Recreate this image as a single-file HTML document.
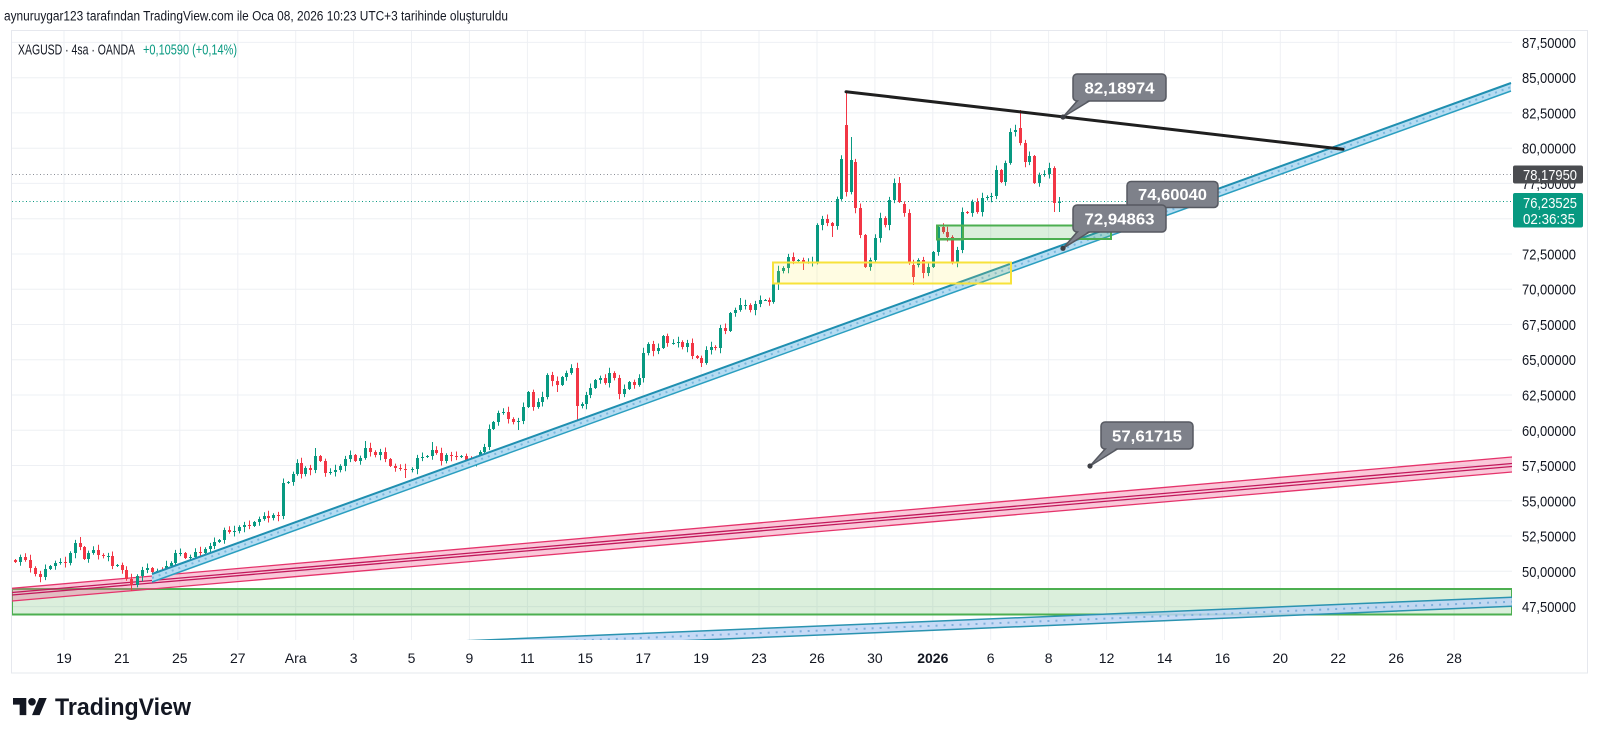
<!DOCTYPE html>
<html><head><meta charset="utf-8">
<style>
html,body{margin:0;padding:0;background:#fff;}
svg{display:block;}
text{font-family:"Liberation Sans",sans-serif;}
</style></head><body>
<svg id="s" width="1600" height="741" viewBox="0 0 1600 741" xmlns="http://www.w3.org/2000/svg">
<defs>
<clipPath id="plot"><rect x="12" y="31" width="1500" height="609"/></clipPath>
</defs>
<rect x="0" y="0" width="1600" height="741" fill="#fff"/>
<!-- header -->
<text x="4" y="20.5" font-size="13.5" fill="#131722" textLength="504" lengthAdjust="spacingAndGlyphs">aynuruygar123 tarafından TradingView.com ile Oca 08, 2026 10:23 UTC+3 tarihinde oluşturuldu</text>
<!-- chart border -->
<rect x="11.5" y="30.5" width="1576" height="642.5" fill="none" stroke="#e6e8ee" stroke-width="1"/>
<g id="grid"></g>

<g clip-path="url(#plot)">
<!-- big green rect -->
<rect x="12" y="589" width="1500" height="25.5" fill="#4caf50" fill-opacity="0.2" stroke="#4caf50" stroke-width="2"/>
<!-- pink channel -->
<polygon points="12,588.3 1512,457 1512,472 12,601" fill="#f06292" fill-opacity="0.35"/>
<line x1="12" y1="588.3" x2="1512" y2="457" stroke="#e5336b" stroke-width="1.3"/>
<line x1="12" y1="601" x2="1512" y2="472" stroke="#e5336b" stroke-width="1.3"/>
<line x1="12" y1="592.5" x2="1512" y2="463.5" stroke="#c2185b" stroke-width="1.3"/>
<line x1="12" y1="595" x2="1512" y2="466.5" stroke="#c2185b" stroke-width="1.3"/>
<!-- bottom blue channel -->
<polygon points="400,643.5 1512,597.2 1512,606.2 400,652.5" fill="#bcd4f4" fill-opacity="0.85"/>
<line x1="400" y1="643.5" x2="1512" y2="597.2" stroke="#2a93b0" stroke-width="1.5"/>
<line x1="400" y1="652.5" x2="1512" y2="606.2" stroke="#2a93b0" stroke-width="1.5"/>
<line x1="400" y1="648" x2="1512" y2="601.7" stroke="#7fb0dc" stroke-width="2" stroke-dasharray="2 6"/>
</g>

<!-- dotted price lines -->
<line x1="12" y1="174.5" x2="1512" y2="174.5" stroke="#8a8d96" stroke-width="1" stroke-dasharray="1 2.5"/>
<line x1="12" y1="201.5" x2="1512" y2="201.5" stroke="#089981" stroke-width="1" stroke-dasharray="1 2.5"/>

<g id="candles"></g>

<!-- main blue channel -->
<polygon points="152,574 1511,83 1511,91 152,582" fill="#b5dcf2"/>
<line x1="152" y1="574" x2="1511" y2="83" stroke="#1f8fb0" stroke-width="2"/>
<line x1="152" y1="582" x2="1511" y2="91" stroke="#2b9fc0" stroke-width="1.5"/>
<line x1="152" y1="578" x2="1511" y2="87" stroke="#7ab8de" stroke-width="2" stroke-dasharray="2 5"/>

<!-- yellow rect -->
<rect x="773" y="262.5" width="238" height="21" fill="#ffeb3b" fill-opacity="0.15" stroke="#f7e23a" stroke-width="2"/>
<!-- small green rects -->
<rect x="937" y="225.5" width="174" height="13.5" fill="#4caf50" fill-opacity="0.2" stroke="#4caf50" stroke-width="2"/>
<rect x="937" y="225.5" width="26" height="14" fill="none" stroke="#4caf50" stroke-width="2"/>

<!-- black trend line -->
<line x1="846" y1="91.7" x2="1343" y2="149.3" stroke="#1f1f1f" stroke-width="3" stroke-linecap="round"/>

<!-- callouts -->
<g font-weight="bold" font-size="16" fill="#fff">
  <polygon points="1078,100 1091,100 1063,117" fill="#7e818a" stroke="#565961" stroke-width="1.5" stroke-linejoin="round"/>
  <rect x="1073" y="74" width="93" height="27" rx="4" fill="#7e818a" stroke="#565961" stroke-width="1.5"/>
  <polygon points="1079.5,99.5 1089.5,99.5 1070,112" fill="#7e818a"/>
  <circle cx="1063" cy="117" r="2.6" fill="#3d3f45"/>
  <text x="1084.5" y="93.5" textLength="70" lengthAdjust="spacingAndGlyphs">82,18974</text>

  <rect x="1127" y="181.5" width="91" height="26" rx="4" fill="#7e818a" stroke="#565961" stroke-width="1.5"/>
  <text x="1138" y="200" textLength="69" lengthAdjust="spacingAndGlyphs">74,60040</text>

  <polygon points="1078,231 1091,231 1063,248.3" fill="#7e818a" stroke="#565961" stroke-width="1.5" stroke-linejoin="round"/>
  <rect x="1073" y="205" width="93" height="27" rx="4" fill="#7e818a" stroke="#565961" stroke-width="1.5"/>
  <polygon points="1079.5,230.5 1089.5,230.5 1070,243" fill="#7e818a"/>
  <circle cx="1063" cy="248.3" r="2.6" fill="#3d3f45"/>
  <text x="1084.5" y="224.5" textLength="70" lengthAdjust="spacingAndGlyphs">72,94863</text>

  <polygon points="1106,448 1119,448 1090,466" fill="#7e818a" stroke="#565961" stroke-width="1.5" stroke-linejoin="round"/>
  <rect x="1101" y="422" width="92" height="27" rx="4" fill="#7e818a" stroke="#565961" stroke-width="1.5"/>
  <polygon points="1107.5,447.5 1117.5,447.5 1097,461" fill="#7e818a"/>
  <circle cx="1090" cy="466" r="2.6" fill="#3d3f45"/>
  <text x="1112" y="441.5" textLength="70" lengthAdjust="spacingAndGlyphs">57,61715</text>
</g>

<!-- legend -->
<text x="18" y="54.5" font-size="14.5" fill="#131722" textLength="117" lengthAdjust="spacingAndGlyphs">XAGUSD · 4sa · OANDA</text>
<text x="143" y="54.5" font-size="14.5" fill="#089981" textLength="94" lengthAdjust="spacingAndGlyphs">+0,10590 (+0,14%)</text>

<g id="paxis" font-size="15" fill="#131722"></g>
<g id="xaxis" font-size="14" fill="#131722"></g>

<!-- price boxes -->
<rect x="1513" y="165.5" width="70" height="18" rx="2" fill="#4a4c50"/>
<text x="1523" y="180" font-size="15" fill="#fff" textLength="54" lengthAdjust="spacingAndGlyphs">78,17950</text>
<rect x="1513" y="193" width="70" height="34.5" rx="2" fill="#089981"/>
<text x="1523" y="208" font-size="15" fill="#fff" textLength="54" lengthAdjust="spacingAndGlyphs">76,23525</text>
<text x="1523" y="224" font-size="15" fill="#fff" textLength="52" lengthAdjust="spacingAndGlyphs">02:36:35</text>

<!-- TradingView logo -->
<g transform="translate(13,694.2) scale(0.95)" fill="#131722">
  <path d="M14 22H7V11H0V4h14v18zM28 22h-8l7.5-18h8L28 22z"/>
  <circle cx="20" cy="8" r="4"/>
</g>
<text x="55" y="715" font-size="24" font-weight="bold" fill="#131722" textLength="136" lengthAdjust="spacingAndGlyphs">TradingView</text>
</svg>

<script>
(function(){
var g='';
var base=42.4, step=35.26;
var xl=['19','21','25','27','Ara','3','5','9','11','15','17','19','23','26','30','2026','6','8','12','14','16','20','22','26','28'];
for(var k=0;k<17;k++){var y=(base+step*k).toFixed(1);g+='<line x1="12" y1="'+y+'" x2="1512" y2="'+y+'" stroke="#eef0f4" stroke-width="1"/>';}
for(var i=0;i<xl.length;i++){var x=(64+57.92*i).toFixed(1);g+='<line x1="'+x+'" y1="31" x2="'+x+'" y2="640" stroke="#eef0f4" stroke-width="1"/>';}
document.getElementById('grid').innerHTML=g;
var p='';
var labels=['87,50000','85,00000','82,50000','80,00000','77,50000','75,00000','72,50000','70,00000','67,50000','65,00000','62,50000','60,00000','57,50000','55,00000','52,50000','50,00000','47,50000'];
for(var k=0;k<labels.length;k++){ if(k===5) continue; var y=(base+step*k+5.5).toFixed(1); p+='<text x="1522" y="'+y+'" textLength="54" lengthAdjust="spacingAndGlyphs">'+labels[k]+'</text>';}
document.getElementById('paxis').innerHTML=p;
var xa='';
for(var i=0;i<xl.length;i++){var x=(64+57.92*i).toFixed(1);var b=xl[i]==='2026'?' font-weight="bold"':'';xa+='<text x="'+x+'" y="663" text-anchor="middle"'+b+'>'+xl[i]+'</text>';}
document.getElementById('xaxis').innerHTML=xa;
var D=[[15,562,560],[20,557],[25,560],[30,568],[35,574],[40,577],[45,569],[50,566],[55,563],[60,562],[65,563],[70,553],[75,543],[80,547,null,537],[84,559],[88,553],[93,550],[98,555],[103,556],[108,556],[112,566],[117,565],[122,570],[126,579],[131,585,null,null,591],[137,576],[142,570],[147,568],[152,572],[157,571],[162,572],[166,566],[171,563],[175,553],[180,553],[185,558],[190,557],[195,552],[200,553],[205,549],[210,546],[214,542],[219,540],[224,530],[229,532],[234,531],[239,527],[244,525],[249,526],[254,522],[259,519],[264,516],[268,518],[273,515],[278,516],[283,483],[288,482],[293,474],[297,463],[301,474],[305,468],[310,470],[315,456,null,448],[320,461],[325,473],[330,472],[335,470],[340,466],[345,459],[350,455],[355,461],[360,458],[365,448,null,441],[370,452],[375,455],[380,452],[385,459],[390,466],[395,468],[400,469],[405,470,null,null,478],[412,469],[417,458],[422,457],[427,456],[432,450,null,442],[436,453],[441,461],[446,455],[451,456],[456,457],[461,456],[466,460],[471,462],[476,461],[480,452],[484,447],[489,429],[493,422],[498,413],[503,412],[508,419],[513,422],[518,421,null,null,430],[523,407],[528,392],[533,407],[538,402],[542,397],[547,375],[552,381],[557,385,null,null,392],[562,377],[566,373],[571,368],[577,406,null,null,420],[582,404],[586,395],[590,388],[595,380],[600,378],[605,383],[609,373],[614,378],[619,394],[624,389],[629,382],[634,385],[639,378],[643,353],[648,344],[653,351],[658,348],[663,336],[667,343],[673,343],[678,342],[682,347],[687,343],[692,356],[697,358],[701,363,null,null,367],[706,350],[711,347],[715,348],[720,328],[725,331],[730,313],[735,310],[740,305,null,298],[745,305],[750,310],[755,304],[760,300],[765,300],[769,302],[773,283],[778,271,null,null,290],[783,268],[788,257],[793,261],[798,260],[803,262,null,null,270],[808,262],[812,262],[817,225],[822,219],[827,223],[832,226,null,null,237],[837,199],[841,159],[846,192,125,92],[851,160,192,137],[855,208,162],[860,235],[865,267],[870,260],[875,238],[880,218],[885,225],[889,200],[894,183],[899,202,null,177],[904,213,204],[909,263],[913,277,265,null,285],[918,260,265],[923,273],[928,267],[933,252],[938,227],[943,232],[947,237],[952,262],[957,250],[962,212],[967,213],[972,202],[977,212],[982,198],[987,197],[991,196],[996,170],[1001,182],[1005,163],[1010,132],[1015,130],[1020,143,128,110],[1025,162],[1029,156],[1034,183],[1039,175],[1044,174],[1049,168],[1054,203,null,null,212],[1059,201.5,203,197,212]];
var prev=560, out='';
for(var i=0;i<D.length;i++){
  var d=D[i], x=Math.round(d[0]), c=d[1];
  var o=(d[2]!=null)?d[2]:prev;
  var top=Math.min(o,c), bot=Math.max(o,c);
  var r1=1+((i*37)%7)*0.7, r2=1+((i*53)%7)*0.7;
  var h=(d[3]!=null)?d[3]:top-r1;
  var l=(d[4]!=null)?d[4]:bot+r2;
  var col=(c<=o)?'#089981':'#f23645';
  out+='<line x1="'+(x+0.5)+'" y1="'+h+'" x2="'+(x+0.5)+'" y2="'+l+'" stroke="'+col+'" stroke-width="1"/>';
  out+='<rect x="'+(x-1)+'" y="'+top+'" width="3" height="'+Math.max(bot-top,1)+'" fill="'+col+'"/>';
  prev=c;
}
document.getElementById('candles').innerHTML=out;
})();
</script>
</body></html>
